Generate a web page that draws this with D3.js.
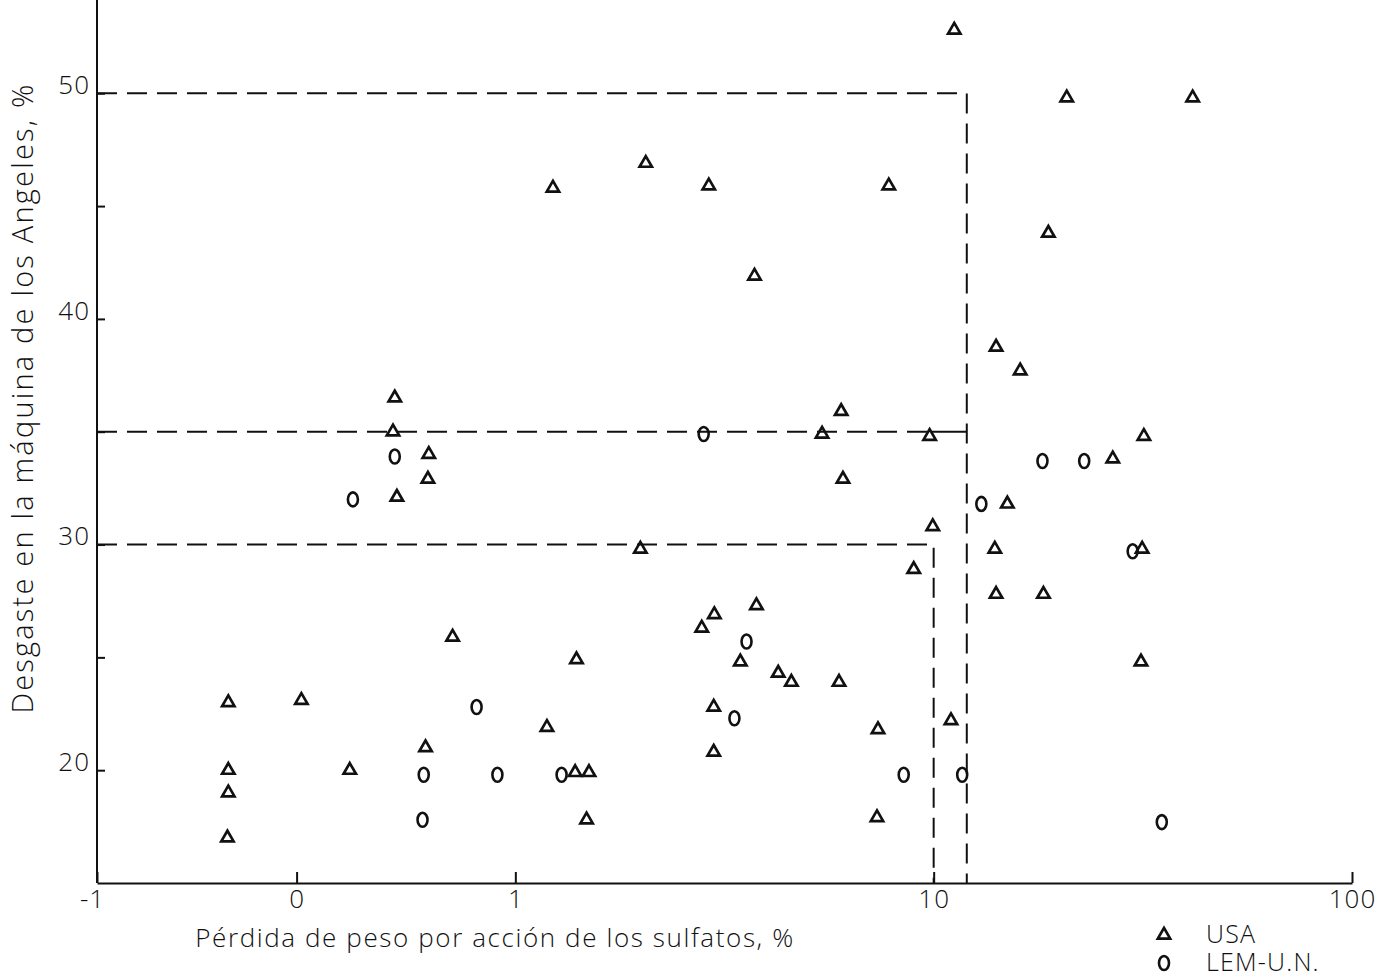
<!DOCTYPE html>
<html>
<head>
<meta charset="utf-8">
<script src="https://cdn.jsdelivr.net/npm/d3@7"></script>
<style>
  body { margin: 0; background: #fff; }
  svg text { font-family: "Open Sans", "Liberation Sans", sans-serif; font-weight: 300; fill: #111; }
</style>
</head>
<body>
<svg></svg>
<script>
// USA series (triangles): sulfate loss %, Los Angeles abrasion %
var usaX = [11.2, 20.8, 41.6, 2.05, 1.23, 2.90, 7.81, 18.8, 3.73, 14.1,
            16.1, 0.515, 6.01, 0.51, 5.41, 9.78, 31.8, 0.621, 26.8, 0.618,
            6.07, 0.521, 15.0, 9.95, 1.99, 14.0, 31.5, 14.1, 18.3, 8.96,
            3.77, 2.99, 2.79, 0.708, 1.40, 3.45, 4.25, 4.57, 5.94, 31.3,
            0.206, 0.308, 2.98, 7.36, 11.0, 1.19, 0.61, 2.98, 0.206, 0.402,
            1.39, 1.50, 0.206, 1.48, 7.32, 0.205];
var usaY = [52.8, 49.8, 49.8, 46.9, 45.8, 45.9, 45.9, 43.8, 41.9, 38.75,
            37.7, 36.5, 35.9, 35.0, 34.9, 34.8, 34.8, 34.0, 33.8, 32.9,
            32.9, 32.1, 31.8, 30.8, 29.8, 29.8, 29.8, 27.8, 27.8, 28.9,
            27.3, 26.9, 26.3, 25.9, 24.9, 24.8, 24.3, 23.9, 23.9, 24.8,
            23.0, 23.1, 22.8, 21.8, 22.2, 21.9, 21.0, 20.8, 20.0, 20.0,
            19.9, 19.9, 19.0, 17.8, 17.9, 17.0];

// LEM-U.N. series (circles)
var lemX = [2.82, 0.515, 0.409, 13.0, 18.2, 22.9, 29.9, 3.57, 0.808, 3.34,
            0.604, 0.906, 1.29, 8.48, 11.7, 0.60, 35.1];
var lemY = [34.9, 33.9, 32.0, 31.8, 33.7, 33.7, 29.7, 25.7, 22.8, 22.3,
            19.8, 19.8, 19.8, 19.8, 19.8, 17.8, 17.7];

var xTickValues = [0.1, 0.3, 1, 10, 100];
var xTickLabels = ["-1", "0", "1", "10", "100"];
var yTickValues = [20, 25, 30, 35, 40, 45, 50];
var yLabeled = [20, 30, 40, 50];

// limit lines: abrasion limit and sulfate limit
var limitY = [50, 35, 30];
var limitX = [12, 12, 10];

var seriesNames = ["USA", "LEM-U.N."];

var svgWidth = 1381, svgHeight = 980;

var svg = d3.select("svg")
    .attr("width", svgWidth)
    .attr("height", svgHeight);

var x = d3.scaleLog()
    .domain([0.1, 100])
    .range([97, 1352]);

var y = d3.scaleLinear()
    .domain([15, 54])
    .range([883, 3]);

// limit lines
var limits = limitY.map(function(v, i) { return { y: v, x: limitX[i] }; });

limits.forEach(function(d) {
  if (d.y === 35) {
    // dashed up to 10, then a solid bit joining the vertical
    svg.append("line")
        .attr("x1", x(0.1)).attr("x2", x(9.9))
        .attr("y1", y(d.y)).attr("y2", y(d.y))
        .attr("stroke", "#111").attr("stroke-width", 2)
        .attr("stroke-dasharray", "20,10");
    svg.append("line")
        .attr("x1", x(9.9)).attr("x2", x(d.x))
        .attr("y1", y(d.y)).attr("y2", y(d.y))
        .attr("stroke", "#111").attr("stroke-width", 2);
  } else {
    svg.append("path")
        .attr("d", "M" + x(0.1) + "," + y(d.y) + "H" + x(d.x) + "V" + y(15))
        .attr("fill", "none")
        .attr("stroke", "#111")
        .attr("stroke-width", 2)
        .attr("stroke-dasharray", "20,10");
  }
});

// axes
var xAxis = svg.append("g")
    .attr("transform", "translate(0," + y(15) + ")")
    .call(d3.axisBottom(x)
        .tickValues(xTickValues)
        .tickFormat(function(d, i) { return xTickLabels[i]; })
        .tickSizeInner(-11)
        .tickSizeOuter(0)
        .tickPadding(7));

xAxis.select(".domain").attr("stroke", "#111").attr("stroke-width", 2);
xAxis.selectAll(".tick line").attr("stroke", "#111").attr("stroke-width", 2);
xAxis.selectAll(".tick text")
    .attr("font-size", 26)
    .attr("letter-spacing", 1)
    .attr("font-family", null)
    .attr("dx", function(d, i) { return i === 0 ? -5 : 0; })
    .attr("fill", "#111");

var yAxis = svg.append("g")
    .attr("transform", "translate(" + x(0.1) + ",0)")
    .call(d3.axisLeft(y)
        .tickValues(yTickValues)
        .tickFormat(function(d) { return yLabeled.indexOf(d) >= 0 ? d : ""; })
        .tickSizeInner(-8)
        .tickSizeOuter(0)
        .tickPadding(7));

yAxis.select(".domain")
    .attr("d", "M0," + y(15) + "V0")
    .attr("stroke", "#111").attr("stroke-width", 2);
yAxis.selectAll(".tick line").attr("stroke", "#111").attr("stroke-width", 2);
yAxis.selectAll(".tick text")
    .attr("font-size", 26)
    .attr("letter-spacing", 1)
    .attr("font-family", null)
    .attr("y", -8)
    .attr("fill", "#111");

// markers
var tri = d3.symbol().type(d3.symbolTriangle).size(66);

var usaData = usaX.map(function(v, i) { return { x: v, y: usaY[i] }; });
var lemData = lemX.map(function(v, i) { return { x: v, y: lemY[i] }; });

svg.append("g").selectAll("path")
    .data(usaData)
    .enter().append("path")
    .attr("d", tri)
    .attr("transform", function(d) { return "translate(" + x(d.x) + "," + y(d.y) + ")"; })
    .attr("fill", "none")
    .attr("stroke", "#111")
    .attr("stroke-width", 2.7)
    .attr("stroke-linejoin", "miter");

svg.append("g").selectAll("ellipse")
    .data(lemData)
    .enter().append("ellipse")
    .attr("cx", function(d) { return x(d.x); })
    .attr("cy", function(d) { return y(d.y); })
    .attr("rx", 5)
    .attr("ry", 7)
    .attr("fill", "none")
    .attr("stroke", "#111")
    .attr("stroke-width", 2.6);

// axis titles
svg.append("text")
    .attr("x", 495)
    .attr("y", 947)
    .attr("text-anchor", "middle")
    .attr("font-size", 26)
    .attr("letter-spacing", 1.6)
    .text("Pérdida de peso por acción de los sulfatos, %");

svg.append("text")
    .attr("transform", "translate(33,398) rotate(-90)")
    .attr("text-anchor", "middle")
    .attr("font-size", 29)
    .attr("letter-spacing", 2.2)
    .text("Desgaste en la máquina de los Angeles, %");

// legend
var legend = svg.append("g").attr("transform", "translate(1164,935)");

legend.append("path")
    .attr("d", tri)
    .attr("fill", "none")
    .attr("stroke", "#111")
    .attr("stroke-width", 2.7);

legend.append("ellipse")
    .attr("cx", 0).attr("cy", 28)
    .attr("rx", 5).attr("ry", 7)
    .attr("fill", "none")
    .attr("stroke", "#111")
    .attr("stroke-width", 2.6);

// both entries in one text block, one line each
legend.append("text")
    .attr("font-size", 25)
    .attr("letter-spacing", 1.2)
    .selectAll("tspan")
    .data(seriesNames)
    .enter().append("tspan")
    .attr("x", 42)
    .attr("y", function(d, i) { return i * 28 + 8; })
    .text(function(d) { return d; });
</script>
</body>
</html>
